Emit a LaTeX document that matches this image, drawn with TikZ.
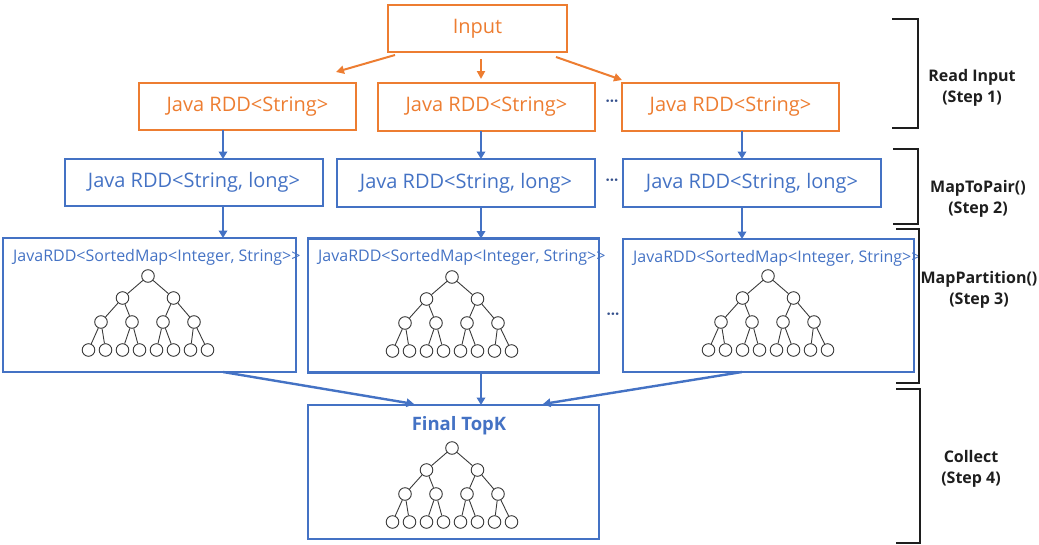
\documentclass[tikz,border=0pt]{standalone}
\usepackage{fontspec}
\setmainfont{Open Sans}
\usetikzlibrary{arrows.meta,calc}
\definecolor{orng}{HTML}{ED7D31}
\definecolor{blu}{HTML}{4472C4}
\definecolor{ink}{HTML}{1E1E1E}
\definecolor{treeink}{HTML}{3A3A3A}
\definecolor{dotink}{HTML}{34508C}

% binary tree of depth 3; #1 = name prefix, #2 = position of the root
\newcommand{\bintree}[2]{%
  \begin{scope}[shift={#2}]
    \foreach \n/\px/\py in {0/0/0, 1/-25.5/22, 2/25.5/22,
        3/-47/46, 4/-16/46, 5/15/46, 6/46/46,
        7/-59.5/74, 8/-42.5/74, 9/-25.5/74, 10/-8.5/74,
        11/8.5/74, 12/25.5/74, 13/42.5/74, 14/59.5/74}
      \node[tn] (#1-\n) at (\px,\py) {};
    \foreach \p/\c in {0/1,0/2,1/3,1/4,2/5,2/6,3/7,3/8,4/9,4/10,5/11,5/12,6/13,6/14}
      \draw[te] (#1-\p) -- (#1-\c);
  \end{scope}}
% map type label, with the closing brackets kept apart
\newcommand{\sortedmaptype}{JavaRDD<SortedMap<Integer, String>\kern0pt>}

\begin{document}
\begin{tikzpicture}[x=1pt, y=-1pt,
  obox/.style={draw=orng, line width=2pt, text=orng, inner sep=0pt, outer sep=0pt,
    font=\fontsize{20}{24}\selectfont},
  bbox/.style={draw=blu, line width=2.3pt, text=blu, inner sep=0pt, outer sep=0pt,
    font=\fontsize{20}{24}\selectfont},
  bigbox/.style={draw=blu, line width=2.3pt, inner sep=0pt, outer sep=0pt},
  ttl/.style={text=blu, inner sep=0pt, anchor=west, font=\fontsize{16}{19}\selectfont},
  tn/.style={circle, draw=treeink, line width=0.9pt, minimum size=12.6pt, inner sep=0pt, fill=white},
  te/.style={draw=treeink, line width=0.9pt},
  oarr/.style={draw=orng, line width=2pt, -{Triangle[length=8pt,width=8pt]}},
  barr/.style={draw=blu, line width=2.4pt, -{Triangle[length=7.5pt,width=8.5pt]}},
  brk/.style={draw=ink, line width=2.6pt, line join=miter},
  steplbl/.style={text=ink, align=center, font=\bfseries\fontsize{16}{21}\selectfont},
  dotsl/.style={text=dotink, inner sep=0pt, font=\bfseries\fontsize{15}{16}\selectfont}
]
\useasboundingbox (0,0) rectangle (1039,544);

% ---- step 1: reading the input
\node[obox, minimum width=179pt, minimum height=47pt] (in) at (477.5,28.5) {Input};
\node[obox, minimum width=217pt, minimum height=47pt] (r1a) at (247.5,106.5) {Java RDD<String>};
\node[obox, minimum width=217pt, minimum height=48pt] (r1b) at (486.5,107) {Java RDD<String>};
\node[obox, minimum width=217pt, minimum height=48pt] (r1c) at (730.5,107) {Java RDD<String>};

% ---- step 2: map to pairs
\node[bbox, minimum width=258pt, minimum height=47pt] (r2a) at (194,182.5) {Java RDD<String, long>};
\node[bbox, minimum width=258pt, minimum height=48pt] (r2b) at (466,183) {Java RDD<String, long>};
\node[bbox, minimum width=258pt, minimum height=48pt] (r2c) at (752,183) {Java RDD<String, long>};

% ---- step 3: partitions holding sorted maps
\node[bigbox, minimum width=293pt, minimum height=134pt] (r3a) at (149.5,305) {};
\node[bigbox, minimum width=291pt, minimum height=134pt] (r3b) at (453.5,305.5) {};
\node[bigbox, minimum width=291pt, minimum height=133pt] (r3c) at (768.5,305.5) {};
\node[ttl] (r3a-t) at ($(r3a.north west)+(10,19)$) {\sortedmaptype};
\node[ttl] (r3b-t) at ($(r3b.north west)+(10,19)$) {\sortedmaptype};
\node[ttl] (r3c-t) at ($(r3c.north west)+(10,19)$) {\sortedmaptype};
\bintree{ta}{(148,276)}
\bintree{tb}{(452,277)}
\bintree{tc}{(768,276)}

% ---- step 4: collecting the final top-k
\node[bigbox, minimum width=291pt, minimum height=134pt] (fin) at (453.5,472) {};
\node[text=blu, inner sep=0pt, font=\bfseries\fontsize{18.5}{22}\selectfont] (fin-t) at (459,426) {Final TopK};
\bintree{tf}{(452,448)}

% ---- elided partitions
\node[dotsl] (d1) at (612,103) {···};
\node[dotsl] (d2) at (612,182) {···};
\node[dotsl] (d3) at (613,316) {···};

% ---- column positions of the vertical arrows
\coordinate (cl) at (223,0);
\coordinate (cm) at (481,0);
\coordinate (cr) at (742,0);

% ---- arrows out of the input
\coordinate (ia) at (336,72);
\coordinate (ib) at (481,79);
\coordinate (ic) at (622,80);
\draw[oarr] ([xshift=7pt,yshift=-3pt]in.south west) -- (ia);
\draw[oarr] ([yshift=-7pt]in.south -| cm) -- (ib);
\draw[oarr] ([xshift=-11pt,yshift=-5pt]in.south east) -- (ic);

% ---- vertical arrows between the rows
\foreach \u/\v/\c in {r1a/r2a/cl, r1b/r2b/cm, r1c/r2c/cr,
                       r2a/r3a/cl, r2b/r3b/cm, r2c/r3c/cr}
  \draw[barr] (\u.south -| \c) -- (\v.north -| \c);

% ---- arrows into the final result
\coordinate (fa) at (414,404);
\coordinate (fc) at (543,404);
\draw[barr] (r3a.south -| cl) -- (fa);
\draw[barr] (r3b.south -| cm) -- (fin.north -| cm);
\draw[barr] (r3c.south -| cr) -- (fc);

% ---- step brackets and their labels
\draw[brk] (892,19) -- (918,19) -- (918,128) -- (892,128);
\draw[brk] (893,149) -- (918,149) -- (918,224) -- (893,224);
\draw[brk] (896,229) -- (919,229) -- (919,383) -- (896,383);
\draw[brk] (896,389) -- (920,389) -- (920,543) -- (896,543);
\node[steplbl] (s1) at (972,87.5) {Read Input\\(Step 1)};
\node[steplbl] (s2) at (978,199) {MapToPair()\\(Step 2)};
\node[steplbl] (s3) at (979,290) {MapPartition()\\(Step 3)};
\node[steplbl] (s4) at (971,468.5) {Collect\\(Step 4)};
\end{tikzpicture}
\end{document}
